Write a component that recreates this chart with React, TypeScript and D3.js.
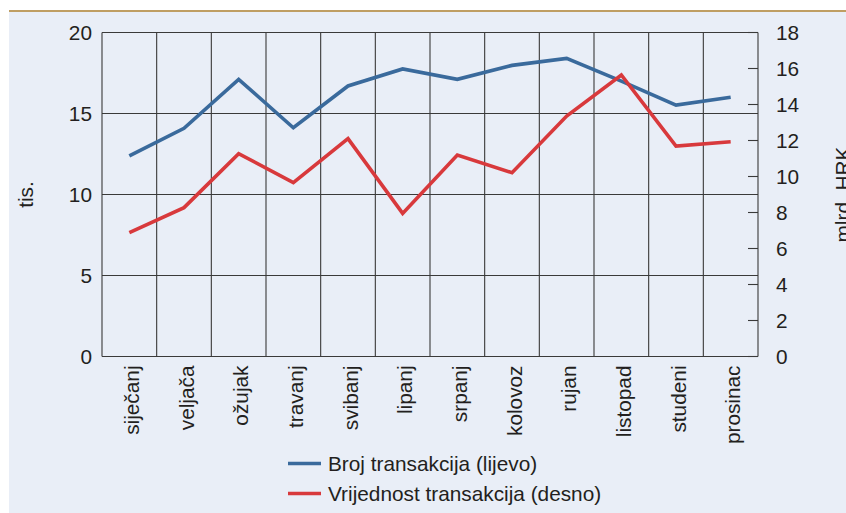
import React from "react";
import * as d3 from "d3";

const months = ["siječanj", "veljača", "ožujak", "travanj", "svibanj", "lipanj", "srpanj", "kolovoz", "rujan", "listopad", "studeni", "prosinac"];
const brojTransakcija = [12.38, 14.09, 17.11, 14.12, 16.7, 17.75, 17.11, 17.97, 18.4, 17.0, 15.52, 16.0];
const vrijednostTransakcija = [6.88, 8.27, 11.27, 9.66, 12.1, 7.95, 11.19, 10.21, 13.36, 15.64, 11.69, 11.93];
const leftTicks = [0, 5, 10, 15, 20];
const rightTicks = [0, 2, 4, 6, 8, 10, 12, 14, 16, 18];
const legendLabels = ["Broj transakcija (lijevo)", "Vrijednost transakcija (desno)"];
const leftTitle = "tis.";
const rightTitle = "mlrd. HRK";

const W = 846;
const H = 513;
const M = { left: 102, right: 758, top: 32.5, bottom: 356.5 };
const BLUE = "#3A6A9C";
const RED = "#D8393C";
const FONT = "'Liberation Sans', Arial, Helvetica, sans-serif";
const TXT = "#231f20";
const FS = 20.8;

export default function App() {
  const x = d3.scaleBand<string>().domain(months).range([M.left, M.right]);
  const yL = d3.scaleLinear().domain([0, 20]).range([M.bottom, M.top]);
  const yR = d3.scaleLinear().domain([0, 18]).range([M.bottom, M.top]);
  const cx = (m: string) => (x(m) as number) + x.bandwidth() / 2;

  const lineL = d3.line<number>().x((_, i) => cx(months[i])).y((d) => yL(d));
  const lineR = d3.line<number>().x((_, i) => cx(months[i])).y((d) => yR(d));

  const gridColor = "#3a3a3a";

  return (
    <svg width={W} height={H} style={{ position: "absolute", left: 0, top: 0 }} fontFamily={FONT}>
      <rect x={0} y={0} width={W} height={H} fill="#ffffff" />
      <rect x={9} y={11} width={W - 9} height={H - 11} fill="#E9EEF7" />
      <rect x={9} y={10} width={W - 9} height={2} fill="#BF9E63" />

      {leftTicks.map((t) => (
        <line key={"h" + t} x1={M.left} x2={M.right} y1={yL(t)} y2={yL(t)} stroke={gridColor} strokeWidth={1.1} />
      ))}
      {months.map((m) => (
        <line key={"v" + m} x1={x(m) as number} x2={x(m) as number} y1={M.top} y2={M.bottom} stroke={gridColor} strokeWidth={1.1} />
      ))}
      <line x1={M.right} x2={M.right} y1={M.top} y2={M.bottom} stroke={gridColor} strokeWidth={1.1} />

      {leftTicks.map((t) => (
        <text key={"lt" + t} x={92} y={yL(t)} dy="0.36em" textAnchor="end" fontSize={FS} fill={TXT}>
          {t}
        </text>
      ))}
      {rightTicks.map((t) => (
        <g key={"rt" + t}>
          <line x1={M.right - 10} x2={M.right} y1={yR(t)} y2={yR(t)} stroke={gridColor} strokeWidth={1.1} />
          <text x={776} y={yR(t)} dy="0.36em" textAnchor="start" fontSize={FS} fill={TXT}>
            {t}
          </text>
        </g>
      ))}

      {months.map((m) => (
        <text key={"m" + m} transform={`translate(${cx(m) + 2},${M.bottom + 9}) rotate(-90)`} dy="0.36em" textAnchor="end" fontSize={FS} fill={TXT}>
          {m}
        </text>
      ))}

      <text transform={`translate(33,${(M.top + M.bottom) / 2}) rotate(-90)`} textAnchor="middle" fontSize={FS} fill={TXT}>
        {leftTitle}
      </text>
      <text transform={`translate(850,${(M.top + M.bottom) / 2}) rotate(-90)`} textAnchor="middle" fontSize={FS} fill={TXT}>
        {rightTitle}
      </text>

      <path d={lineL(brojTransakcija) || ""} fill="none" stroke={BLUE} strokeWidth={3.6} strokeLinejoin="miter" />
      <path d={lineR(vrijednostTransakcija) || ""} fill="none" stroke={RED} strokeWidth={3.6} strokeLinejoin="miter" />

      {legendLabels.map((l, i) => (
        <g key={l} transform={`translate(288,${463.5 + i * 30})`}>
          <line x1={0} x2={33} y1={0} y2={0} stroke={i === 0 ? BLUE : RED} strokeWidth={3.6} />
          <text x={40} y={0} dy="0.36em" fontSize={FS} fill={TXT}>
            {l}
          </text>
        </g>
      ))}
    </svg>
  );
}
